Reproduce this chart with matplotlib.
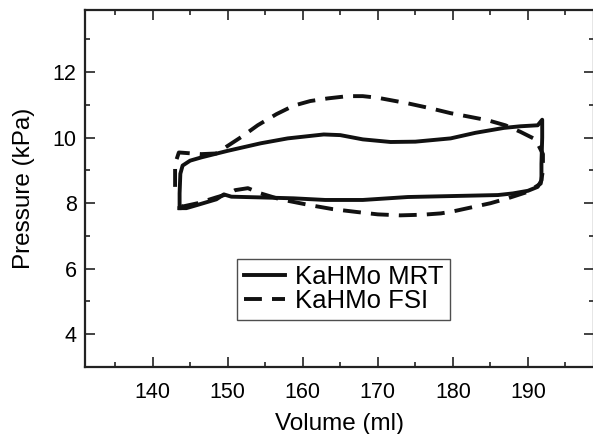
import matplotlib
matplotlib.use("Agg")
import matplotlib.pyplot as plt
from matplotlib.ticker import MultipleLocator

plt.rcParams['font.family'] = ['Liberation Sans', 'DejaVu Sans']

# KaHMo MRT pressure-volume loop (solid)
mrt_vol = [143.6, 143.6, 143.7, 144.0, 145.0, 146.5, 150.0, 154.4, 158.0, 162.8,
           165.0, 168.0, 171.7, 175.0, 179.7, 183.0, 186.8, 189.0, 191.3, 191.9,
           191.9, 191.8, 191.8, 191.3, 190.0, 188.0, 186.0, 180.0, 174.0, 168.0,
           163.0, 158.8, 154.0, 150.5, 149.5, 148.5, 146.0, 144.5, 143.6]
mrt_p = [7.85, 8.30, 8.90, 9.15, 9.30, 9.40, 9.60, 9.83, 9.98, 10.10,
         10.08, 9.95, 9.87, 9.88, 9.98, 10.15, 10.30, 10.35, 10.38, 10.55,
         10.00, 9.20, 8.70, 8.50, 8.38, 8.30, 8.25, 8.22, 8.19, 8.10,
         8.10, 8.15, 8.18, 8.20, 8.27, 8.12, 7.95, 7.85, 7.85]

# KaHMo FSI pressure-volume loop (dashed)
fsi_vol = [143.0, 143.0, 143.5, 146.5, 148.5, 150.0, 152.0, 154.0, 156.5, 158.8,
           161.0, 163.3, 166.0, 168.0, 170.0, 174.0, 177.0, 179.7, 182.0, 184.7,
           187.0, 189.0, 191.0, 192.0, 192.0, 191.7, 190.0, 187.3, 185.0, 182.8,
           180.0, 178.4, 176.0, 173.0, 170.0, 167.3, 164.0, 161.0, 157.0, 154.4,
           152.7, 151.0, 150.0, 148.5, 146.0, 144.0, 143.0]
fsi_p = [8.50, 9.20, 9.55, 9.50, 9.52, 9.75, 10.05, 10.38, 10.72, 10.98,
         11.12, 11.20, 11.27, 11.27, 11.22, 11.05, 10.90, 10.75, 10.65, 10.53,
         10.38, 10.18, 9.95, 9.50, 9.00, 8.60, 8.35, 8.15, 8.00, 7.89,
         7.75, 7.69, 7.65, 7.63, 7.66, 7.73, 7.82, 7.94, 8.12, 8.30,
         8.46, 8.40, 8.28, 8.18, 8.00, 7.90, 8.00]

fig = plt.figure(figsize=(5.93, 4.34), dpi=100)
ax = fig.add_axes([85 / 593, (434 - 367) / 434, 509 / 593, 357 / 434])

ax.plot(mrt_vol, mrt_p, color='#111111', lw=2.8, solid_joinstyle='round',
        label='KaHMo MRT')
ax.plot(fsi_vol, fsi_p, color='#111111', lw=2.8, dashes=(4.6, 2.6),
        label='KaHMo FSI')

ax.set_xlim(131, 198.8)
ax.set_ylim(3.0, 13.9)
ax.xaxis.set_major_locator(MultipleLocator(10))
ax.xaxis.set_minor_locator(MultipleLocator(5))
ax.yaxis.set_minor_locator(MultipleLocator(1))
ax.set_yticks([4, 6, 8, 10, 12])
ax.tick_params(which='both', direction='in', top=True, right=True,
               labelsize=15.5, width=1.2, color='#222222')
ax.tick_params(which='major', length=7)
ax.tick_params(which='minor', length=3.5)
ax.tick_params(axis='x', pad=11)
ax.tick_params(axis='y', pad=6)
for s in ax.spines.values():
    s.set_linewidth(1.6)
    s.set_color('#222222')

ax.set_xlabel('Volume (ml)', fontsize=17.5, labelpad=7)
ax.set_ylabel('Pressure (kPa)', fontsize=17.5, labelpad=13)

leg = ax.legend(loc='lower left', bbox_to_anchor=(0.299, 0.132),
                borderaxespad=0, fontsize=18.5, frameon=True, fancybox=False,
                handlelength=1.6, handletextpad=0.4, labelspacing=0.0,
                borderpad=0.25)
leg.get_frame().set_edgecolor('#222222')
leg.get_frame().set_linewidth(1.0)

fig.savefig('out.png', dpi=100)
